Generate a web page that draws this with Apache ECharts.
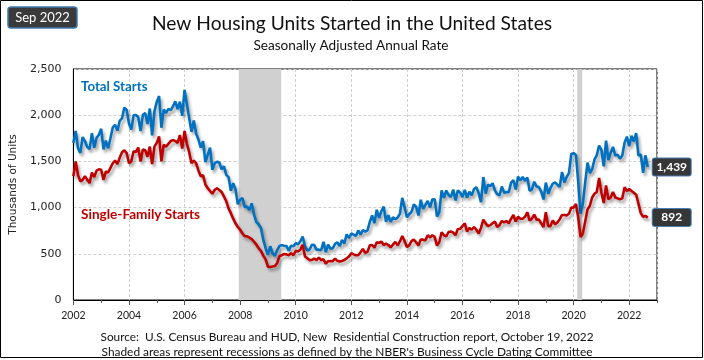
<!DOCTYPE html>
<html>
<head>
<meta charset="utf-8">
<script src="https://cdn.jsdelivr.net/npm/echarts@6/dist/echarts.min.js"></script>
<style>html,body{margin:0;padding:0;background:#fff}#c{width:704px;height:360px}</style>
</head>
<body>
<div id="c"></div>
<script>
// Monthly data, Jan 2002 .. Sep 2022, thousands of units (SAAR)
const startYear = 2002;
const xTickLabels = [2002, 2004, 2006, 2008, 2010, 2012, 2014, 2016, 2018, 2020, 2022];
const yTickLabels = [0, 500, 1000, 1500, 2000, 2500];
const seriesNames = ['Total Starts', 'Single-Family Starts'];
const recessions = [[2007.95, 2009.48], [2020.13, 2020.31]];

const totalStarts = [
  1698,1829,1642,1592,1764,1717,1655,1633,1804,1648,1753,1788,
  1853,1629,1726,1643,1751,1867,1897,1833,1939,1967,2083,2057,
  1911,1846,1998,2003,1981,1828,2002,2024,1905,2072,1782,2042,
  2144,2207,1864,2061,2025,2068,2054,2095,2151,2065,2147,1994,
  2273,2119,1969,1821,1942,1802,1737,1650,1720,1491,1570,1649,
  1409,1480,1495,1490,1415,1448,1354,1330,1183,1264,1197,1037,
  1084,1103,1005,1013,973,1046,923,844,820,777,652,560,
  490,582,505,478,540,585,594,586,585,534,588,581,
  614,604,636,687,583,536,546,599,594,543,545,539,
  630,517,600,554,561,608,623,585,650,611,711,670,
  720,708,694,753,708,757,740,754,847,915,833,976,
  888,962,1010,847,919,846,895,876,891,936,1105,1003,
  897,928,954,1034,1010,915,1085,985,1030,1073,1002,1088,
  1091,903,954,1186,1106,1185,1137,1115,1195,1078,1186,1164,
  1113,1193,1109,1171,1132,1201,1220,1157,1058,1331,1151,1250,
  1230,1264,1186,1145,1133,1228,1160,1169,1168,1270,1298,1196,
  1336,1295,1331,1289,1327,1182,1197,1280,1228,1223,1173,1088,
  1271,1149,1211,1260,1272,1248,1226,1385,1272,1330,1375,1580,
  1590,1570,1276,934,1046,1273,1487,1375,1415,1519,1568,1671,
  1625,1447,1725,1514,1594,1657,1562,1573,1530,1563,1703,1768,
  1666,1777,1716,1805,1562,1575,1377,1566,1439
];

const singleFamilyStarts = [
  1340,1500,1350,1285,1300,1340,1300,1265,1380,1330,1400,1415,
  1410,1300,1390,1380,1430,1480,1510,1470,1540,1600,1620,1590,
  1480,1500,1610,1600,1650,1500,1630,1620,1550,1660,1470,1660,
  1700,1770,1500,1680,1660,1690,1720,1730,1720,1700,1785,1640,
  1830,1690,1600,1480,1510,1480,1400,1340,1350,1250,1210,1180,
  1150,1190,1210,1190,1170,1120,1070,990,940,880,830,790,
  760,720,690,690,675,660,630,600,560,530,480,440,
  360,357,362,367,400,474,485,498,494,485,505,486,
  530,526,544,597,471,451,432,434,449,430,460,432,
  440,393,420,421,420,448,424,417,422,433,451,470,
  506,494,484,484,517,552,511,522,591,595,566,624,
  618,633,596,609,595,570,599,628,593,634,693,639,
  573,591,637,654,625,589,654,653,645,701,678,700,
  683,589,627,733,700,689,736,742,728,701,768,770,
  800,830,740,780,760,790,760,720,780,870,830,800,
  810,830,850,790,810,855,840,855,830,880,920,850,
  900,880,880,900,950,860,880,925,870,870,830,790,
  950,800,800,860,820,840,875,920,920,915,935,1000,
  1000,1040,890,680,720,850,980,1020,1110,1150,1170,1320,
  1160,1050,1240,1090,1110,1170,1110,1100,1090,1100,1220,1180,
  1200,1180,1160,1140,1040,940,900,910,892
];

const toPoints = arr => arr.map((v, i) => [startYear + i / 12, v]);
const fmt = v => v.toLocaleString('en-US');

const chart = echarts.init(document.getElementById('c'), null, {renderer: 'canvas'});
const blue = '#0070C0', red = '#C00000';
const shadow = {shadowColor: 'rgba(0,0,0,0.35)', shadowBlur: 3, shadowOffsetX: 2, shadowOffsetY: 3};
const endLbl = {
  show: true, distance: 5, formatter: p => '{v|' + fmt(p.value[1]) + '}',
  backgroundColor: '#363636', borderColor: '#4a7fb5', borderWidth: 1, borderRadius: 2,
  padding: [2, 4, 2, 4],
  rich: {v: {width: 30, align: 'center', color: '#fff', fontFamily: 'Lato', fontWeight: 'bold', fontSize: 12, lineHeight: 13}}
};

chart.setOption({
  animation: false,
  grid: {left: 70, right: 47, top: 69, bottom: 60, show: true, borderColor: '#000', borderWidth: 1, backgroundColor: 'transparent'},
  xAxis: [{
    type: 'value', min: xTickLabels[0], max: 2023, interval: 2,
    axisLine: {lineStyle: {color: '#000', width: 1}},
    axisTick: {show: true, length: 5, lineStyle: {color: '#555'}},
    axisLabel: {color: '#222', fontFamily: 'Lato', fontSize: 10.5, margin: 10, showMaxLabel: false,
      formatter: v => (xTickLabels.indexOf(v) >= 0 ? String(v) : '')},
    splitLine: {show: true, lineStyle: {color: '#cfcfcf', type: [3, 2], width: 1}}
  }, {
    type: 'value', min: xTickLabels[0], max: 2023, interval: 1, position: 'bottom',
    axisLine: {show: false}, axisLabel: {show: false}, splitLine: {show: false},
    axisTick: {show: true, length: 3, lineStyle: {color: '#555'}}
  }],
  yAxis: {
    type: 'value', min: yTickLabels[0], max: yTickLabels[yTickLabels.length - 1], interval: 500,
    name: 'Thousands of Units', nameLocation: 'middle', nameGap: 53, nameRotate: 90,
    nameTextStyle: {fontFamily: 'DejaVu Sans', fontSize: 10.5, color: '#222'},
    axisLine: {show: true, lineStyle: {color: '#000'}},
    axisTick: {show: false},
    axisLabel: {fontFamily: 'DejaVu Sans', fontSize: 11, color: '#222', margin: 12, formatter: v => fmt(v)},
    splitLine: {show: true, lineStyle: {color: '#cfcfcf', type: [3, 2], width: 1}}
  },
  series: [{
    type: 'line', name: 'recessions', data: [], z: 1, silent: true,
    markArea: {silent: true, itemStyle: {color: '#d0d0d0'},
      data: recessions.map(r => [{xAxis: r[0]}, {xAxis: r[1]}])}
  }, {
    type: 'line', name: seriesNames[0], data: toPoints(totalStarts), z: 3,
    showSymbol: false, symbol: 'none', clip: false,
    lineStyle: Object.assign({color: blue, width: 2.6}, shadow),
    endLabel: endLbl
  }, {
    type: 'line', name: seriesNames[1], data: toPoints(singleFamilyStarts), z: 4,
    showSymbol: false, symbol: 'none', clip: false,
    lineStyle: Object.assign({color: red, width: 2.6}, shadow),
    endLabel: endLbl
  }],
  graphic: [
    {type: 'rect', shape: {x: 0.5, y: 0.5, width: 702, height: 357}, style: {fill: 'none', stroke: '#000', lineWidth: 1}, z: 100},
    {type: 'rect', shape: {x: 8, y: 7, width: 69, height: 21, r: 3}, style: {fill: '#3a3a3a', stroke: '#3f78ad', lineWidth: 1.5}, z: 100},
    {type: 'text', x: 42.5, y: 17.5, style: {text: 'Sep 2022', fill: '#fff', font: '13px Lato', align: 'center', verticalAlign: 'middle'}, z: 101},
    {type: 'text', x: 352, y: 24, style: {text: 'New Housing Units Started in the United States', fill: '#111', font: '19.2px Lato', align: 'center', verticalAlign: 'middle'}, z: 101},
    {type: 'text', x: 351, y: 46, style: {text: 'Seasonally Adjusted Annual Rate', fill: '#111', font: '13.6px Lato', align: 'center', verticalAlign: 'middle'}, z: 101},
    {type: 'text', x: 81, y: 86.5, style: {text: seriesNames[0], fill: blue, font: 'bold 13.3px Lato', align: 'left', verticalAlign: 'middle'}, z: 101},
    {type: 'text', x: 81, y: 214.5, style: {text: seriesNames[1], fill: red, font: 'bold 13.6px Lato', align: 'left', verticalAlign: 'middle'}, z: 101},
    {type: 'text', x: 347, y: 337, style: {text: 'Source:  U.S. Census Bureau and HUD, New  Residential Construction report, October 19, 2022', fill: '#111', font: '11.8px Lato', align: 'center', verticalAlign: 'middle'}, z: 101},
    {type: 'text', x: 347, y: 352.5, style: {text: "Shaded areas represent recessions as defined by the NBER's Business Cycle Dating Committee", fill: '#111', font: '11.9px Lato', align: 'center', verticalAlign: 'middle'}, z: 101}
  ]
});
</script>
</body>
</html>
